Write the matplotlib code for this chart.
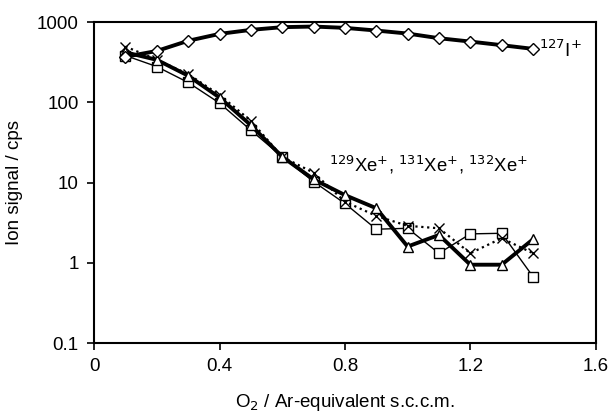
import numpy as np
import matplotlib.pyplot as plt
from matplotlib.ticker import FixedLocator, FixedFormatter, NullLocator

plt.rcParams['font.family'] = ['Liberation Sans', 'DejaVu Sans']

# O2 flow (s.c.c.m.)
flow = [0.1, 0.2, 0.3, 0.4, 0.5, 0.6, 0.7, 0.8, 0.9, 1.0, 1.1, 1.2, 1.3, 1.4]

# 127I+ signal
iodine = [370, 437, 585, 713, 800, 865, 880, 848, 785, 720, 630, 572, 516, 464]
# Xe isotopes
xe_square = [383, 279, 177, 98, 45, 21, 10.3, 5.5, 2.63, 2.7, 1.32, 2.3, 2.34, 0.675]
xe_triangle = [420, 339, 215, 115, 52, 21, 11, 7.0, 4.8, 1.6, 2.23, 0.95, 0.95, 1.97]
xe_cross = [496, 340, 225, 124, 59, 21, 13.3, 5.8, 3.85, 2.9, 2.7, 1.32, 2.03, 1.32]

fig = plt.figure(figsize=(6.11, 4.17), dpi=100)
ax = fig.add_axes([0.154, 0.177, 0.821, 0.77])

ax.plot(flow, xe_square, '-', color='black', lw=1.0, marker='s', ms=7.5,
        mfc='white', mec='black', mew=1.0)
ax.plot(flow, xe_cross, ':', color='black', lw=1.6, marker='x', ms=7.5,
        mec='black', mew=1.0)
ax.plot(flow, xe_triangle, '-', color='black', lw=2.8, marker='^', ms=7.5,
        mfc='white', mec='black', mew=1.0)
ax.plot(flow, iodine, '-', color='black', lw=2.8, marker='D', ms=6.5,
        mfc='white', mec='black', mew=1.0)

ax.set_yscale('log')
ax.set_xlim(0, 1.6)
ax.set_ylim(0.1, 1000)
ax.set_xticks([0, 0.4, 0.8, 1.2, 1.6])
ax.set_xticklabels(['0', '0.4', '0.8', '1.2', '1.6'])
ax.yaxis.set_major_locator(FixedLocator([0.1, 1, 10, 100, 1000]))
ax.yaxis.set_major_formatter(FixedFormatter(['0.1', '1', '10', '100', '1000']))
ax.yaxis.set_minor_locator(NullLocator())
ax.tick_params(direction='out', length=5, width=1.2, labelsize=13.5, pad=6)
for s in ax.spines.values():
    s.set_linewidth(1.5)

ax.set_xlabel('O$_2$ / Ar-equivalent s.c.c.m.', fontsize=13.5, labelpad=12)
ax.set_ylabel('Ion signal / cps', fontsize=13.5, labelpad=10)

ax.text(1.42, 440, '$^{127}$I$^{+}$', fontsize=13.5, va='center', ha='left')
ax.text(0.75, 16.5, '$^{129}$Xe$^{+}$, $^{131}$Xe$^{+}$, $^{132}$Xe$^{+}$',
        fontsize=13.3, va='center', ha='left')

fig.savefig('out.png', dpi=100)
